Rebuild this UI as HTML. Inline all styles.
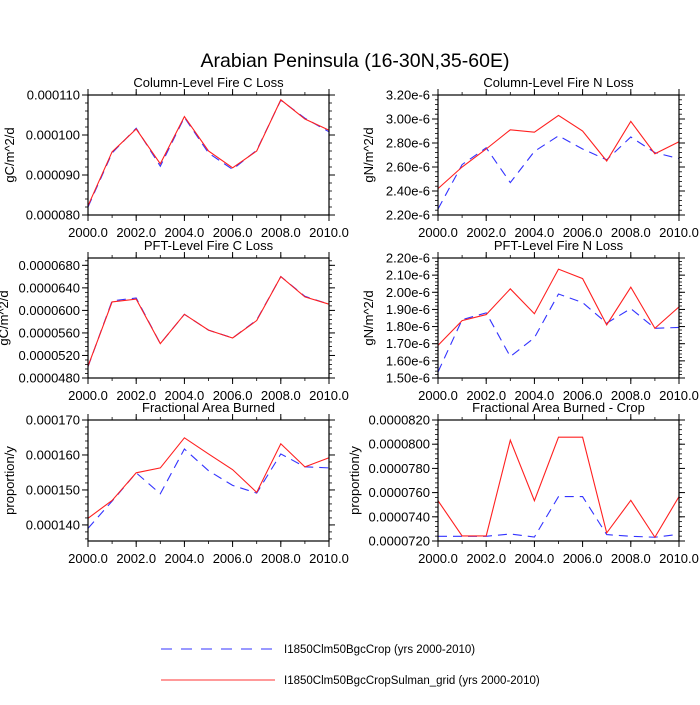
<!DOCTYPE html>
<html><head><meta charset="utf-8">
<style>
html,body{margin:0;padding:0;background:#fff;}
svg text{font-family:"Liberation Sans",Arial,sans-serif;fill:#000;}
</style></head>
<body>
<svg id="chart" width="700" height="700" viewBox="0 0 700 700" xmlns="http://www.w3.org/2000/svg">
<text x="355" y="67" font-size="19.5" text-anchor="middle">Arabian Peninsula (16-30N,35-60E)</text>
<g>
<line x1="161" y1="649" x2="275" y2="649" stroke="#3333ff" stroke-width="1" stroke-dasharray="11,9"/>
<text x="284" y="653" font-size="11.5">I1850Clm50BgcCrop (yrs 2000-2010)</text>
<line x1="161" y1="680" x2="275" y2="680" stroke="#ff3333" stroke-width="1"/>
<text x="284" y="684" font-size="11.5">I1850Clm50BgcCropSulman_grid (yrs 2000-2010)</text>
</g>
</svg>
<script>
const years = [2000,2001,2002,2003,2004,2005,2006,2007,2008,2009,2010];
const xTicks = [2000,2002,2004,2006,2008,2010];
const xTickLabels = ["2000.0","2002.0","2004.0","2006.0","2008.0","2010.0"];

const colCBlue = [82.0,95.5,101.7,92.2,104.4,95.5,91.4,96.2,108.7,104.2,100.8];
const colCRed  = [82.3,95.8,101.5,92.8,104.6,96.0,91.8,96.0,108.8,104.0,101.2];
const colCTicks = [80,90,100,110];
const colCLabels = ["0.000080","0.000090","0.000100","0.000110"];

const colNBlue = [2.25,2.62,2.76,2.47,2.73,2.86,2.75,2.66,2.85,2.72,2.67];
const colNRed  = [2.42,2.60,2.75,2.91,2.89,3.03,2.90,2.65,2.98,2.71,2.81];
const colNTicks = [2.2,2.4,2.6,2.8,3.0,3.2];
const colNLabels = ["2.20e-6","2.40e-6","2.60e-6","2.80e-6","3.00e-6","3.20e-6"];

const pftCBlue = [50.0,61.7,62.2,54.1,59.3,56.5,55.1,58.3,66.0,62.5,61.1];
const pftCRed  = [50.1,61.5,62.0,54.1,59.3,56.5,55.1,58.2,66.0,62.4,61.1];
const pftCTicks = [48,52,56,60,64,68];
const pftCLabels = ["0.0000480","0.0000520","0.0000560","0.0000600","0.0000640","0.0000680"];

const pftNBlue = [1.535,1.84,1.88,1.625,1.735,1.99,1.94,1.82,1.905,1.79,1.795];
const pftNRed  = [1.69,1.835,1.87,2.02,1.875,2.135,2.08,1.81,2.03,1.79,1.915];
const pftNTicks = [1.5,1.6,1.7,1.8,1.9,2.0,2.1,2.2];
const pftNLabels = ["1.50e-6","1.60e-6","1.70e-6","1.80e-6","1.90e-6","2.00e-6","2.10e-6","2.20e-6"];

const fabBlue = [139.0,146.8,154.9,148.9,161.7,155.5,151.3,149.1,160.3,156.6,156.3];
const fabRed  = [141.9,147.0,154.9,156.3,164.9,160.3,155.8,149.3,163.2,156.6,159.2];
const fabTicks = [140,150,160,170];
const fabLabels = ["0.000140","0.000150","0.000160","0.000170"];

const cropBlue = [72.39,72.39,72.39,72.58,72.33,75.67,75.67,72.53,72.39,72.31,72.56];
const cropRed  = [75.33,72.42,72.42,80.33,75.33,80.58,80.58,72.67,75.36,72.31,75.67];
const cropTicks = [72,74,76,78,80,82];
const cropLabels = ["0.0000720","0.0000740","0.0000760","0.0000780","0.0000800","0.0000820"];

const NS="http://www.w3.org/2000/svg";
const svg=document.getElementById('chart');
function mk(tag,attrs,parent){const e=document.createElementNS(NS,tag);for(const k in attrs)e.setAttribute(k,attrs[k]);(parent||svg).appendChild(e);return e;}

const panels=[
 {name:'column-c',title:'Column-Level Fire C Loss',yl:'gC/m^2/d',ylx:10,x0:88,y0:95,y1:215,min:80,max:110,minor:2,ticks:colCTicks,labels:colCLabels,blue:colCBlue,red:colCRed},
 {name:'column-n',title:'Column-Level Fire N Loss',yl:'gN/m^2/d',ylx:369,x0:438,y0:95,y1:215,min:2.2,max:3.2,minor:0.04,ticks:colNTicks,labels:colNLabels,blue:colNBlue,red:colNRed},
 {name:'pft-c',title:'PFT-Level Fire C Loss',yl:'gC/m^2/d',ylx:4,x0:88,y0:258,y1:378,min:48,max:69.3,minor:0.8,ticks:pftCTicks,labels:pftCLabels,blue:pftCBlue,red:pftCRed},
 {name:'pft-n',title:'PFT-Level Fire N Loss',yl:'gN/m^2/d',ylx:369,x0:438,y0:258,y1:378,min:1.5,max:2.2,minor:0.02,ticks:pftNTicks,labels:pftNLabels,blue:pftNBlue,red:pftNRed},
 {name:'fraction-burned',title:'Fractional Area Burned',yl:'proportion/y',ylx:10,x0:88,y0:420,y1:541,min:135.4,max:170,minor:2,ticks:fabTicks,labels:fabLabels,blue:fabBlue,red:fabRed},
 {name:'fraction-burned-crop',title:'Fractional Area Burned - Crop',yl:'proportion/y',ylx:355,x0:438,y0:420,y1:541,min:72,max:82,minor:0.4,ticks:cropTicks,labels:cropLabels,blue:cropBlue,red:cropRed}
];

panels.forEach(p=>{
 const W=241;
 const g=mk('g',{});
 
 
 const xs=v=>p.x0+(v-2000)/10*W;
 const ys=v=>p.y1-(v-p.min)/(p.max-p.min)*(p.y1-p.y0);
 const t=mk('text',{x:p.x0+W/2,y:p.y0-8,'font-size':13,'text-anchor':'middle'},g);
 t.textContent=p.title;
 
 
 const yl=mk('text',{x:0,y:0,'font-size':13,'text-anchor':'middle',transform:`translate(${p.ylx+4},${(p.y0+p.y1)/2}) rotate(-90)`},g);
 yl.textContent=p.yl;
 
 
 const start=Math.ceil(p.min/p.minor-1e-6);
 for(let k=start;k*p.minor<=p.max+1e-9;k++){
  const y=ys(k*p.minor);
  mk('line',{x1:p.x0-3,x2:p.x0,y1:y,y2:y,stroke:'#000','stroke-width':0.8},g);
  mk('line',{x1:p.x0+W,x2:p.x0+W+3,y1:y,y2:y,stroke:'#000','stroke-width':0.8},g);
 }
 p.ticks.forEach((v,i)=>{
  const y=ys(v);
  mk('line',{x1:p.x0-6,x2:p.x0,y1:y,y2:y,stroke:'#000','stroke-width':1},g);
  mk('line',{x1:p.x0+W,x2:p.x0+W+6,y1:y,y2:y,stroke:'#000','stroke-width':1},g);
  const l=mk('text',{x:p.x0-8,y:y+4.5,'font-size':13,'text-anchor':'end'},g);
  l.textContent=p.labels[i];
  
  
 });
 years.forEach(v=>{
  const x=xs(v);
  mk('line',{x1:x,x2:x,y1:p.y1,y2:p.y1+3,stroke:'#000','stroke-width':0.8},g);
  mk('line',{x1:x,x2:x,y1:p.y0-3,y2:p.y0,stroke:'#000','stroke-width':0.8},g);
 });
 xTicks.forEach((v,i)=>{
  const x=xs(v);
  mk('line',{x1:x,x2:x,y1:p.y1,y2:p.y1+6,stroke:'#000','stroke-width':1},g);
  mk('line',{x1:x,x2:x,y1:p.y0-6,y2:p.y0,stroke:'#000','stroke-width':1},g);
  const l=mk('text',{x:x,y:p.y1+22,'font-size':13,'text-anchor':'middle'},g);
  l.textContent=xTickLabels[i];
  
  
 });
 const bl=mk('polyline',{points:years.map((v,i)=>xs(v)+','+ys(p.blue[i])).join(' '),fill:'none',stroke:'#3333ff','stroke-width':1.1,'stroke-dasharray':'9,6'},g);
 
 
 const rl=mk('polyline',{points:years.map((v,i)=>xs(v)+','+ys(p.red[i])).join(' '),fill:'none',stroke:'#ff2020','stroke-width':1.1},g);
 
 
 const box=mk('rect',{x:p.x0,y:p.y0,width:W,height:p.y1-p.y0,fill:'none',stroke:'#000','stroke-width':1.2},g);
 
 
});
</script>
</body></html>
